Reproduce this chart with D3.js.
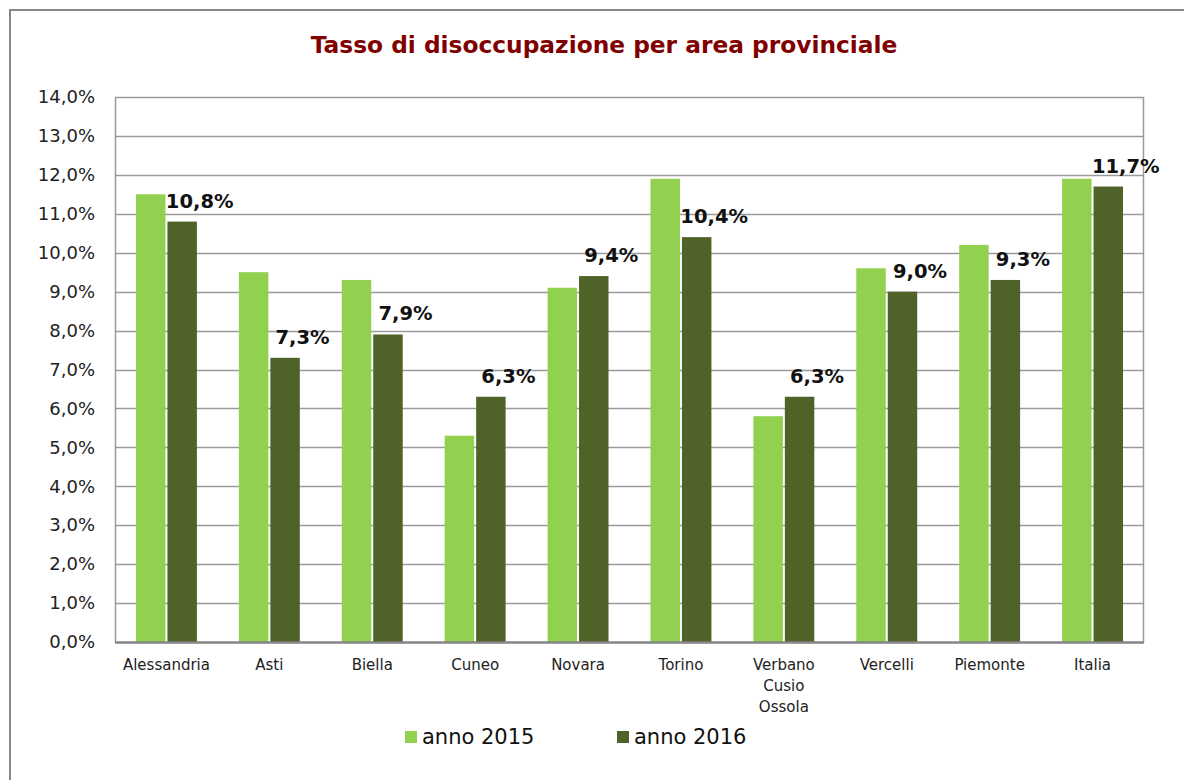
<!DOCTYPE html>
<html>
<head>
<meta charset="utf-8">
<script src="https://cdn.jsdelivr.net/npm/d3@7"></script>
<style>
  html, body { margin: 0; padding: 0; background: #fff; }
  svg { display: block; }
</style>
</head>
<body>
<svg id="chart" width="1184" height="780"></svg>
<script>
const categories = ["Alessandria", "Asti", "Biella", "Cuneo", "Novara", "Torino", "Verbano\nCusio\nOssola", "Vercelli", "Piemonte", "Italia"];
const series = ["anno 2015", "anno 2016"];
const values2015 = [11.5, 9.5, 9.3, 5.3, 9.1, 11.9, 5.8, 9.6, 10.2, 11.9];
const values2016 = [10.8, 7.3, 7.9, 6.3, 9.4, 10.4, 6.3, 9.0, 9.3, 11.7];
const yTicks = [0, 1, 2, 3, 4, 5, 6, 7, 8, 9, 10, 11, 12, 13, 14];
const colors = ["#92D050", "#4F6228"];
const title = "Tasso di disoccupazione per area provinciale";

const svg = d3.select("#chart");
const fmt = v => d3.format(".1f")(v).replace(".", ",") + "%";

// outer frame
svg.append("rect").attr("x", 10).attr("y", 10).attr("width", 1190).attr("height", 800)
  .attr("fill", "#fff").attr("stroke", "#878787").attr("stroke-width", 2);

const plot = { left: 115, right: 1144, top: 97, bottom: 642 };

const x0 = d3.scaleBand().domain(categories).range([plot.left, plot.right])
  .paddingInner(0.408).paddingOuter(0.204);
const x1 = d3.scaleBand().domain(series).range([0, x0.bandwidth()]);
const y = d3.scaleLinear().domain([0, 14]).range([plot.bottom, plot.top]);

// title
const titleEl = svg.append("text").attr("x", 604).attr("y", 53).attr("text-anchor", "middle")
  .attr("font-family", "DejaVu Sans, Verdana, sans-serif").attr("font-weight", "bold")
  .attr("font-size", 20).attr("fill", "#800000").text(title);
const tw = titleEl.node().getComputedTextLength();
titleEl.attr("font-size", 20 * 587 / tw);

// gridlines
svg.append("g").selectAll("line").data(yTicks.filter(d => d > 0)).join("line")
  .attr("x1", plot.left).attr("x2", plot.right)
  .attr("y1", d => Math.round(y(d)) + 0.5).attr("y2", d => Math.round(y(d)) + 0.5)
  .attr("stroke", "#9a9a9a").attr("stroke-width", 1.3);

// plot border sides
svg.append("line").attr("x1", plot.left + 0.5).attr("x2", plot.left + 0.5)
  .attr("y1", plot.top).attr("y2", plot.bottom).attr("stroke", "#9a9a9a").attr("stroke-width", 1.5);
svg.append("line").attr("x1", plot.right - 0.5).attr("x2", plot.right - 0.5)
  .attr("y1", plot.top).attr("y2", plot.bottom).attr("stroke", "#9a9a9a").attr("stroke-width", 1.5);

// y axis labels via d3 axis
const yAxis = d3.axisLeft(y).tickValues(yTicks).tickFormat(fmt).tickSize(0).tickPadding(20);
const yg = svg.append("g").attr("transform", `translate(${plot.left},0)`).call(yAxis);
yg.select(".domain").remove();
yg.selectAll("text").attr("font-family", "DejaVu Sans, Verdana, sans-serif")
  .attr("font-size", 18).attr("fill", "#222");

// bars
const data = categories.map((c, i) => ({ cat: c, vals: [values2015[i], values2016[i]] }));
const groups = svg.append("g").selectAll("g").data(data).join("g")
  .attr("transform", d => `translate(${x0(d.cat)},0)`);
groups.selectAll("rect").data(d => d.vals.map((v, j) => ({ s: series[j], v, j }))).join("rect")
  .attr("x", d => x1(d.s) + (d.j === 1 ? 1 : 0))
  .attr("width", x1.bandwidth() - 1)
  .attr("y", d => y(d.v))
  .attr("height", d => y(0) - y(d.v))
  .attr("fill", d => colors[d.j]);

// data labels for 2016
groups.append("text")
  .attr("x", d => x1(series[1]) + x1.bandwidth() / 2 + 18)
  .attr("y", d => y(d.vals[1]) - 14)
  .attr("text-anchor", "middle")
  .attr("font-family", "DejaVu Sans, Verdana, sans-serif").attr("font-weight", "bold")
  .attr("font-size", 19.5).attr("fill", "#111")
  .text(d => fmt(d.vals[1]));

// x axis baseline
svg.append("line").attr("x1", plot.left).attr("x2", plot.right)
  .attr("y1", plot.bottom + 0.5).attr("y2", plot.bottom + 0.5)
  .attr("stroke", "#858585").attr("stroke-width", 2.5);

// x axis labels
const xAxis = d3.axisBottom(x0).tickSize(0).tickFormat("");
const xg = svg.append("g").attr("transform", `translate(0,${plot.bottom})`).call(xAxis);
xg.select(".domain").remove();
xg.selectAll(".tick").append("text")
  .attr("text-anchor", "middle")
  .attr("font-family", "DejaVu Sans, Verdana, sans-serif").attr("font-size", 15).attr("fill", "#222")
  .each(function(d) {
    const t = d3.select(this);
    d.split("\n").forEach((line, k) => {
      t.append("tspan").attr("x", 0).attr("y", 28 + k * 21).text(line);
    });
  });

// legend
const legendX = [405, 617];
const lg = svg.append("g").selectAll("g").data(series).join("g")
  .attr("transform", (d, i) => `translate(${legendX[i]},731)`);
lg.append("rect").attr("width", 12).attr("height", 12).attr("fill", (d, i) => colors[i]);
lg.append("text").attr("x", 17).attr("y", 13)
  .attr("font-family", "DejaVu Sans, Verdana, sans-serif").attr("font-size", 21).attr("fill", "#111")
  .text(d => d);
</script>
</body>
</html>
